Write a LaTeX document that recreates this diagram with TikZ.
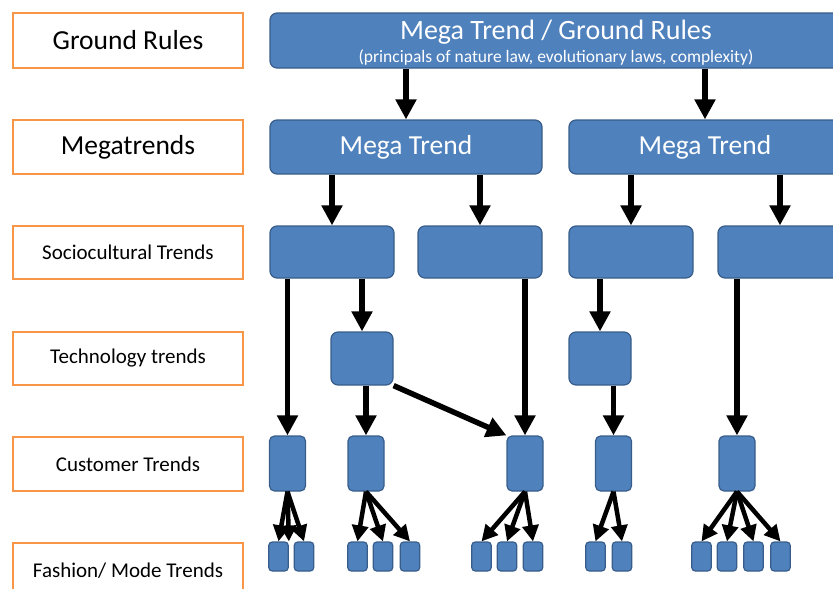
\documentclass[tikz,border=0pt]{standalone}
\usepackage{fontspec}
\setmainfont{Carlito}
\usetikzlibrary{arrows.meta}
\definecolor{trendblue}{HTML}{4F81BD}
\definecolor{trendedge}{HTML}{385D8A}
\definecolor{rowedge}{HTML}{F79646}

\begin{document}
\begin{tikzpicture}[x=1pt,y=-1pt,
	rowbox/.style={draw=rowedge,line width=2pt,minimum width=230pt,inner sep=0pt},
	bigrow/.style={rowbox,font=\fontsize{27.5}{29}\selectfont},
	smallrow/.style={rowbox,font=\fontsize{21}{23}\selectfont},
	trend/.style={draw=trendedge,fill=trendblue,line width=1.2pt,rounded corners=7pt,inner sep=0pt,text=white},
	flow/.style={line width=5.5pt,-{Triangle[length=20pt,width=20pt]}},
	fanout/.style={line width=4.5pt,-{Triangle[length=16pt,width=16pt]}}]
	\useasboundingbox (0,0) rectangle (833,589);
	\clip (0,0) rectangle (833,589);
	\node[bigrow,minimum height=55pt] (grl) at (128,40.5) {Ground Rules};
	\node[bigrow,minimum height=54pt] (mgl) at (128,147) {Megatrends};
	\node[smallrow,minimum height=53pt] (scl) at (128,252.5) {Sociocultural Trends};
	\node[smallrow,minimum height=53pt] (tcl) at (128,358.5) {Technology trends};
	\node[smallrow,minimum height=54pt] (csl) at (128,464) {Customer Trends};
	\node[smallrow,minimum height=55pt] (fsl) at (128,570.5) {Fashion/ Mode Trends};
	\node[trend,minimum width=572pt,minimum height=55pt] (gr) at (556,40.5) {};
	\node[text=white,font=\fontsize{28}{29}\selectfont] (grtitle) at (556,32) {Mega Trend / Ground Rules};
	\node[text=white,font=\fontsize{17.5}{18}\selectfont] (grsub) at (556,58) {(principals of nature law, evolutionary laws, complexity)};
	\node[trend,minimum width=272pt,minimum height=54pt,font=\fontsize{27.5}{29}\selectfont] (mt1) at (406,147) {Mega Trend};
	\node[trend,minimum width=272pt,minimum height=54pt,font=\fontsize{27.5}{29}\selectfont] (mt2) at (705,147) {Mega Trend};
	\node[trend,minimum width=124pt,minimum height=52pt] (s1) at (332,252) {};
	\node[trend,minimum width=124pt,minimum height=52pt] (s2) at (480,252) {};
	\node[trend,minimum width=124pt,minimum height=52pt] (s3) at (631,252) {};
	\node[trend,minimum width=124pt,minimum height=52pt] (s4) at (780,252) {};
	\node[trend,minimum width=62pt,minimum height=53pt] (t1) at (362,358.5) {};
	\node[trend,minimum width=62pt,minimum height=53pt] (t2) at (600,358.5) {};
	\foreach \x [count=\i] in {287.5,366,525,613.5,737}
		\node[trend,minimum width=36pt,minimum height=55pt,rounded corners=5pt] (c\i) at (\x,463.5) {};
	\foreach \x [count=\i] in {278.5,304,357.5,383,410,481.5,507,533,595.5,622,701.5,727,753.5,780.5}
		\node[trend,minimum width=19.5pt,minimum height=29pt,rounded corners=3.5pt] (f\i) at (\x,556.5) {};
	\draw[flow] (gr.south -| mt1.north) -- (mt1.north);
	\draw[flow] (gr.south -| mt2.north) -- (mt2.north);
	\draw[flow] (mt1.south -| s1.north) -- (s1.north);
	\draw[flow] (mt1.south -| s2.north) -- (s2.north);
	\draw[flow] (mt2.south -| s3.north) -- (s3.north);
	\draw[flow] (mt2.south -| s4.north) -- (s4.north);
	\draw[flow] (s1.south -| c1.north) -- (c1.north);
	\draw[flow] (s1.south -| t1.north) -- (t1.north);
	\draw[flow] (s2.south -| c3.north) -- (c3.north);
	\draw[flow] (t1.south -| c2.north) -- (c2.north);
	\draw[flow] (t1.south east) -- (c3.north west);
	\draw[flow] (s3.south -| t2.north) -- (t2.north);
	\draw[flow] (t2.south -| c4.north) -- (c4.north);
	\draw[flow] (s4.south -| c5.north) -- (c5.north);
	\foreach \a/\b in {c1/f1.north,c1/f1.north east,c1/f2.north,c2/f3.north,c2/f4.north,c2/f5.north,c3/f6.north,c3/f7.north,c3/f8.north,c4/f9.north,c4/f10.north,c5/f11.north,c5/f12.north,c5/f13.north,c5/f14.north}
		\draw[fanout] (\a.south) -- (\b);
\end{tikzpicture}
\end{document}
